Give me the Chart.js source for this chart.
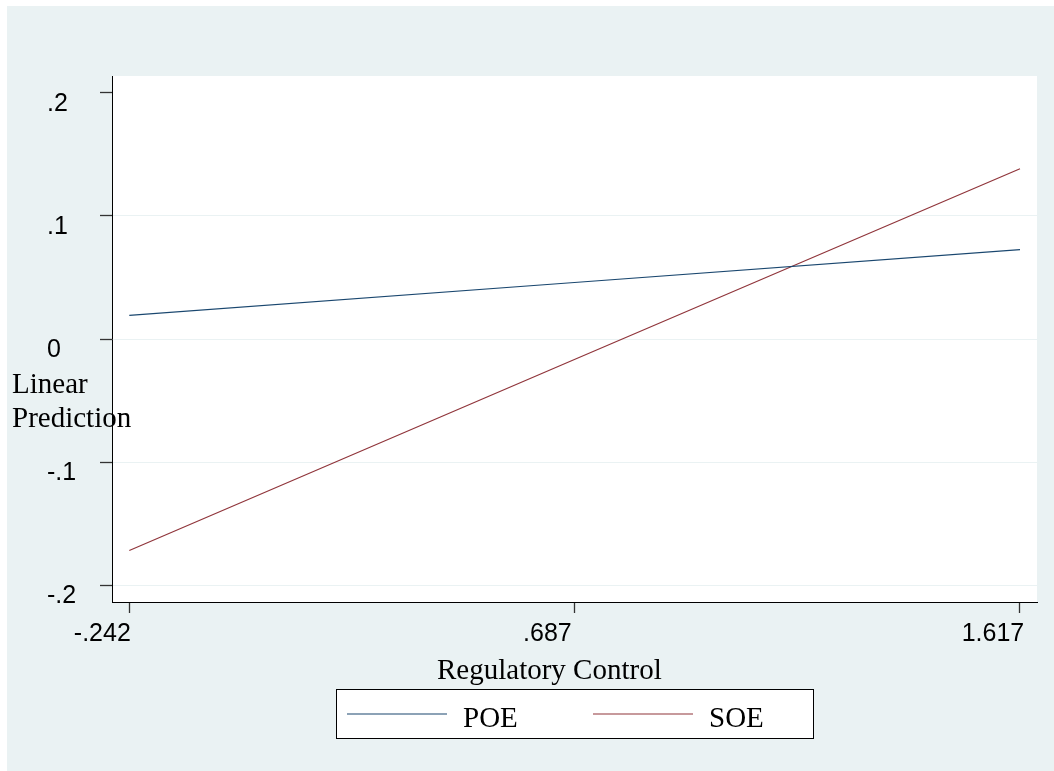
<!DOCTYPE html>
<html>
<head>
<meta charset="utf-8">
<script src="https://cdn.jsdelivr.net/npm/chart.js@4/dist/chart.umd.min.js"></script>
<style>
  html, body { margin: 0; padding: 0; background: #ffffff; }
  canvas { display: block; }
</style>
</head>
<body>
<canvas id="chart" width="1054" height="771"></canvas>
<script>
// Predicted values at three levels of regulatory control
const xValues = [-0.242, 0.687, 1.617];
const poeValues = [0.0192, 0.0459, 0.0726];
const soeValues = [-0.1718, -0.0167, 0.1383];
const seriesNames = ['POE', 'SOE'];

// Axis ticks and their labels
const xTickValues = [-0.242, 0.687, 1.617];
const xTickLabels = ['-.242', '.687', '1.617'];
const yTickValues = [-0.2, -0.1, 0, 0.1, 0.2];
const yTickLabels = ['-.2', '-.1', '0', '.1', '.2'];

const xTitle = 'Regulatory Control';
const yTitleLines = ['Linear', 'Prediction'];

const SANS = '"Liberation Sans", Arial, sans-serif';
const SERIF = '"Liberation Serif", "Times New Roman", serif';
const BG = '#EAF2F3';

const toPoints = (ys) => xValues.map((x, i) => ({ x: x, y: ys[i] }));

// Outer panel and white plot region
const backgroundPlugin = {
  id: 'panelBackground',
  beforeDraw(chart) {
    const { ctx, chartArea: a } = chart;
    ctx.save();
    ctx.fillStyle = '#ffffff';
    ctx.fillRect(0, 0, chart.width, chart.height);
    ctx.fillStyle = BG;
    ctx.fillRect(7, 6, chart.width - 7, chart.height - 6);
    ctx.fillStyle = '#ffffff';
    ctx.fillRect(a.left, a.top, a.right - a.left, a.bottom - a.top);
    ctx.restore();
  }
};

// Axis titles and the boxed legend below the plot
const annotationPlugin = {
  id: 'titlesAndLegend',
  afterDraw(chart) {
    const { ctx } = chart;
    ctx.save();
    ctx.fillStyle = '#000000';
    ctx.font = '29px ' + SERIF;
    ctx.textAlign = 'left';
    ctx.textBaseline = 'alphabetic';

    // y title, two lines at the left
    ctx.fillText(yTitleLines[0], 12, 393);
    ctx.fillText(yTitleLines[1], 12, 427);

    // x title
    ctx.fillText(xTitle, 437, 679);

    // legend frame
    const lx = 336, ly = 689, lw = 477, lh = 49;
    ctx.fillStyle = '#ffffff';
    ctx.fillRect(lx, ly, lw, lh);
    ctx.strokeStyle = '#000000';
    ctx.lineWidth = 1;
    ctx.strokeRect(lx + 0.5, ly + 0.5, lw, lh);

    // legend keys
    const keyStarts = [347, 593];
    chart.data.datasets.forEach((ds, i) => {
      const x0 = keyStarts[i];
      ctx.strokeStyle = ds.borderColor;
      ctx.lineWidth = 1.2;
      ctx.beginPath();
      ctx.moveTo(x0, 714);
      ctx.lineTo(x0 + 100, 714);
      ctx.stroke();
      ctx.fillStyle = '#000000';
      ctx.fillText(ds.label, x0 + 116, 727);
    });
    ctx.restore();
  }
};

new Chart(document.getElementById('chart'), {
  type: 'scatter',
  data: {
    datasets: [
      {
        label: seriesNames[0],
        data: toPoints(poeValues),
        showLine: true,
        borderColor: '#1a476f',
        backgroundColor: '#1a476f',
        borderWidth: 1.2,
        pointRadius: 0,
        pointHoverRadius: 0,
        tension: 0
      },
      {
        label: seriesNames[1],
        data: toPoints(soeValues),
        showLine: true,
        borderColor: '#90353b',
        backgroundColor: '#90353b',
        borderWidth: 1.2,
        pointRadius: 0,
        pointHoverRadius: 0,
        tension: 0
      }
    ]
  },
  options: {
    responsive: false,
    animation: false,
    devicePixelRatio: 1,
    layout: { padding: { left: 47, top: 76, right: 17, bottom: 0 } },
    plugins: {
      legend: { display: false },
      tooltip: { enabled: false },
      title: { display: false }
    },
    scales: {
      x: {
        type: 'linear',
        position: 'bottom',
        min: -0.2781,
        max: 1.6525,
        afterBuildTicks(scale) {
          scale.ticks = xTickValues.map(v => ({ value: v }));
        },
        afterFit(scale) {
          scale.height = 169;
          scale.paddingLeft = 0;
          scale.paddingRight = 0;
        },
        ticks: {
          autoSkip: false,
          maxRotation: 0,
          minRotation: 0,
          padding: 6,
          labelOffset: -27,
          color: '#000000',
          font: { family: SANS, size: 25 },
          callback(value, index) { return xTickLabels[index]; }
        },
        grid: {
          drawOnChartArea: false,
          drawTicks: true,
          tickLength: 11,
          tickColor: '#333333',
          tickWidth: 1.3
        },
        border: { display: true, color: '#000000', width: 1 }
      },
      y: {
        type: 'linear',
        position: 'left',
        min: -0.2137,
        max: 0.2137,
        afterBuildTicks(scale) {
          scale.ticks = yTickValues.map(v => ({ value: v }));
        },
        afterFit(scale) {
          scale.width = 65;
          scale.paddingTop = 0;
          scale.paddingBottom = 0;
        },
        ticks: {
          autoSkip: false,
          crossAlign: 'far',
          labelOffset: 11,
          color: '#000000',
          font: { family: SANS, size: 25 },
          callback(value, index) { return yTickLabels[index]; }
        },
        grid: {
          drawOnChartArea: true,
          drawTicks: true,
          tickLength: 12,
          color: (c) => (c.tick && Math.abs(c.tick.value - 0.2) < 1e-9) ? 'rgba(0,0,0,0)' : BG,
          lineWidth: 1,
          tickColor: '#333333',
          tickWidth: 1.3
        },
        border: { display: true, color: '#000000', width: 1 }
      }
    }
  },
  plugins: [backgroundPlugin, annotationPlugin]
});
</script>
</body>
</html>
